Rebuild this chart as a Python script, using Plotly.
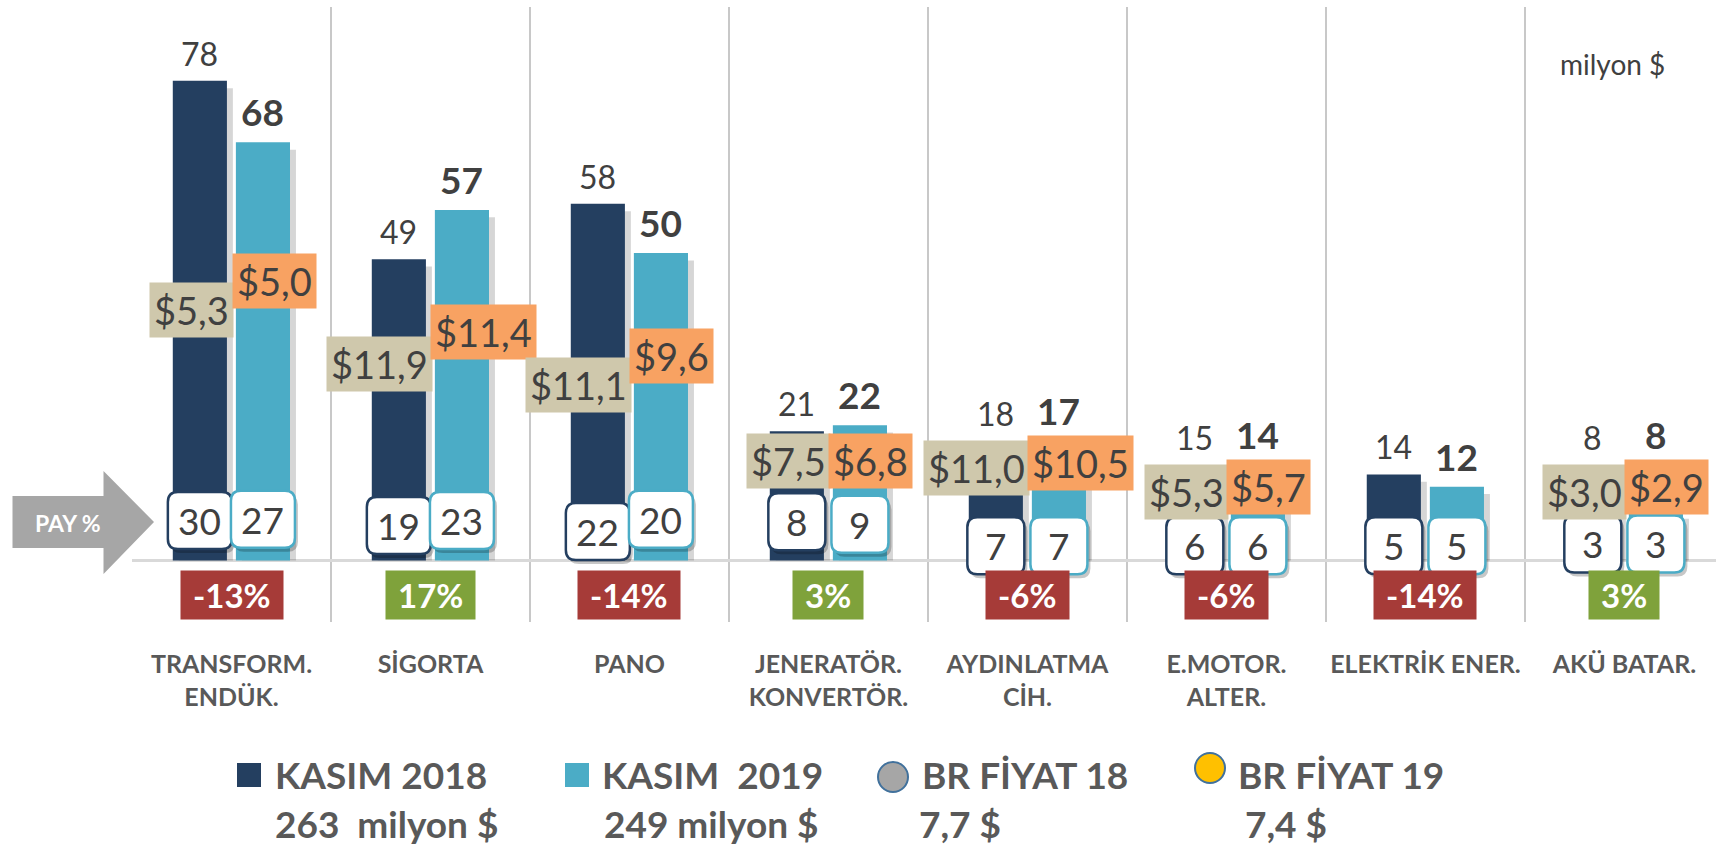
import plotly.graph_objects as go

# ---------------- data ----------------
categories = ["TRANSFORM.<br>ENDÜK.", "SİGORTA", "PANO", "JENERATÖR.<br>KONVERTÖR.",
              "AYDINLATMA<br>CİH.", "E.MOTOR.<br>ALTER.", "ELEKTRİK ENER.", "AKÜ BATAR."]
kasim_2018 = [78, 49, 58, 21, 18, 15, 14, 8]
kasim_2019 = [68, 57, 50, 22, 17, 14, 12, 8]
pay_2018 = [30, 19, 22, 8, 7, 6, 5, 3]
pay_2019 = [27, 23, 20, 9, 7, 6, 5, 3]
fiyat_2018 = [5.3, 11.9, 11.1, 7.5, 11.0, 5.3, None, 3.0]
fiyat_2019 = [5.0, 11.4, 9.6, 6.8, 10.5, 5.7, None, 2.9]
degisim = [-13, 17, -14, 3, -6, -6, -14, 3]
legend_names = ["KASIM 2018", "KASIM  2019", "BR FİYAT 18", "BR FİYAT 19"]
legend_totals = ["263  milyon $", "249 milyon $", "7,7 $", "7,4 $"]

# label placement (chart units), as hand placed in the original
fiyat_label_y18 = [40.7, 32.0, 28.6, 16.1, 15.1, 11.2, None, 11.2]
fiyat_label_y19 = [45.5, 37.1, 33.3, 16.1, 15.8, 11.9, None, 11.9]
pay_box_y18 = [6.5, 5.7, 4.7, 6.3, 2.4, 2.4, 2.4, 2.7]
pay_box_y19 = [6.7, 6.5, 6.7, 5.9, 2.4, 2.4, 2.4, 2.7]
value_label_floor = [0, 0, 0, 0, 19.5, 15.5, 0, 15.5]

FONT = "Lato"
DARK = "#243F60"
LIGHT = "#4BACC6"
TXT = "#404040"
GRY = "#595959"

W, H = 1716, 849
ML, MT, MB = 132, 7, 227
PW, PH = W - ML, H - MT - MB


def pxx(p):
    return (p - ML) / PW


def pxy(p):
    return (H - MB - p) / PH


def rounded(w, h, r, dx=0, dy=0):
    x0, x1, y0, y1 = -w / 2 + dx, w / 2 + dx, -h / 2 + dy, h / 2 + dy
    return (f"M {x0+r},{y0} L {x1-r},{y0} Q {x1},{y0} {x1},{y0+r} "
            f"L {x1},{y1-r} Q {x1},{y1} {x1-r},{y1} L {x0+r},{y1} "
            f"Q {x0},{y1} {x0},{y1-r} L {x0},{y0+r} Q {x0},{y0} {x0+r},{y0} Z")


def money(v):
    return "$" + f"{v:.1f}".replace(".", ",")


BAR_W = 0.272
OFF_18, OFF_19 = -0.295, 0.022
C_18, C_19 = OFF_18 + BAR_W / 2, OFF_19 + BAR_W / 2
x = list(range(len(categories)))

fig = go.Figure()
for vals, off in [(kasim_2018, OFF_18), (kasim_2019, OFF_19)]:
    fig.add_trace(go.Bar(x=x, y=[v - 1.2 for v in vals], width=BAR_W, offset=off + 0.03,
                         marker=dict(color="rgba(0,0,0,0.16)", line_width=0),
                         hoverinfo="skip", showlegend=False))
fig.add_trace(go.Bar(x=x, y=kasim_2018, width=BAR_W, offset=OFF_18, name=legend_names[0],
                     marker=dict(color=DARK, line_width=0)))
fig.add_trace(go.Bar(x=x, y=kasim_2019, width=BAR_W, offset=OFF_19, name=legend_names[1],
                     marker=dict(color=LIGHT, line_width=0)))

ann = []
shapes = []

# value labels above bars
for i in x:
    ann.append(dict(x=i + C_18, y=max(kasim_2018[i], value_label_floor[i]), text=str(kasim_2018[i]),
                    yanchor="bottom", yshift=6, showarrow=False,
                    font=dict(family=FONT, size=32, color=TXT)))
    ann.append(dict(x=i + C_19, y=max(kasim_2019[i], value_label_floor[i]), text=str(kasim_2019[i]),
                    yanchor="bottom", yshift=6, showarrow=False,
                    font=dict(family=FONT, size=37, color=TXT, weight="bold")))

# price labels
for i in x:
    if fiyat_2018[i] is not None:
        ann.append(dict(x=i + 0.015, y=fiyat_label_y18[i], text=money(fiyat_2018[i]), xanchor="right",
                        yanchor="middle", showarrow=False, bgcolor="#CFC8AC", borderpad=4,
                        font=dict(family=FONT, size=38, color=TXT)))
    if fiyat_2019[i] is not None:
        ann.append(dict(x=i, y=fiyat_label_y19[i], text=money(fiyat_2019[i]), xanchor="left",
                        yanchor="middle", showarrow=False, bgcolor="#F8A262", borderpad=4,
                        font=dict(family=FONT, size=38, color=TXT)))

# PAY % boxes
for i in x:
    for val, yv, c, col in [(pay_2018[i], pay_box_y18[i], C_18, DARK),
                            (pay_2019[i], pay_box_y19[i], C_19, LIGHT)]:
        w = 64 if val >= 10 else 57
        common = dict(type="path", xref="x", yref="y", xsizemode="pixel", ysizemode="pixel",
                      xanchor=i + c, yanchor=yv, layer="above")
        shapes.append(dict(common, path=rounded(w, 57, 10, 3, -4),
                           fillcolor="rgba(0,0,0,0.22)", line_width=0))
        shapes.append(dict(common, path=rounded(w, 57, 10),
                           fillcolor="white", line=dict(color=col, width=2.5)))
        ann.append(dict(x=i + c, y=yv, text=str(val), showarrow=False, yanchor="middle",
                        font=dict(family=FONT, size=37, color=TXT)))

# change boxes
for i in x:
    d = degisim[i]
    ann.append(dict(x=i, y=-5.6, text=f"\u00a0{d}%\u00a0", showarrow=False, yanchor="middle",
                    bgcolor="#A63B38" if d < 0 else "#7FA23B", borderpad=4,
                    font=dict(family=FONT, size=33, color="white", weight="bold")))

# PAY % arrow
pts = [(12.5, 496), (103.5, 496), (103.5, 471), (154, 522), (103.5, 574), (103.5, 548), (12.5, 548)]
path = "M " + " L ".join(f"{pxx(a):.5f},{pxy(b):.5f}" for a, b in pts) + " Z"
shapes.append(dict(type="path", xref="paper", yref="paper", path=path,
                   fillcolor="#A6A6A6", line_width=0, layer="above"))
ann.append(dict(x=pxx(68), y=pxy(523), xref="paper", yref="paper", text="PAY %", showarrow=False,
                xanchor="center", yanchor="middle",
                font=dict(family=FONT, size=23, color="white", weight="bold")))

ann.append(dict(x=pxx(1612), y=pxy(64), xref="paper", yref="paper", text="milyon $", showarrow=False,
                xanchor="center", yanchor="middle",
                font=dict(family=FONT, size=28, color=TXT)))

# legend (drawn by hand, bigger symbols than plotly's legend allows)
sym_left = [237, 565, 878, 1195]
sym_cy = [775, 775, 777, 768]
text_left = [273, 600, 920, 1236]
total_left = [273, 602, 917, 1243]
sym_fill = [DARK, LIGHT, "#A6A6A6", "#FFC000"]
for k in range(4):
    if k < 2:
        shapes.append(dict(type="rect", xref="paper", yref="paper",
                           x0=pxx(sym_left[k]), x1=pxx(sym_left[k] + 24),
                           y0=pxy(sym_cy[k] - 12), y1=pxy(sym_cy[k] + 12),
                           fillcolor=sym_fill[k], line_width=0))
    else:
        shapes.append(dict(type="circle", xref="paper", yref="paper",
                           x0=pxx(sym_left[k]), x1=pxx(sym_left[k] + 30),
                           y0=pxy(sym_cy[k] - 15), y1=pxy(sym_cy[k] + 15),
                           fillcolor=sym_fill[k], line=dict(color="#41719C", width=2)))
    ann.append(dict(x=pxx(text_left[k]), y=pxy(774), xref="paper", yref="paper",
                    xanchor="left", yanchor="middle",
                    text=legend_names[k], showarrow=False,
                    font=dict(family=FONT, size=37, color=GRY, weight="bold")))
    ann.append(dict(x=pxx(total_left[k]), y=pxy(823), xref="paper", yref="paper",
                    xanchor="left", yanchor="middle",
                    text=legend_totals[k], showarrow=False,
                    font=dict(family=FONT, size=37, color=GRY, weight="bold")))

fig.update_layout(
    width=W, height=H,
    margin=dict(l=ML, r=0, t=MT, b=MB),
    barmode="overlay",
    plot_bgcolor="white", paper_bgcolor="white",
    showlegend=False,
    annotations=ann, shapes=shapes,
)
fig.update_xaxes(
    range=[-0.5, 7.46], tickmode="array", tickvals=x, ticktext=categories,
    showgrid=False, zeroline=False, showline=False,
    ticks="outside", ticklen=20, tickcolor="rgba(0,0,0,0)",
    tickfont=dict(family=FONT, size=25, color=GRY, weight="bold"),
    minor=dict(tickmode="array", tickvals=[i - 0.5 for i in range(len(categories) + 1)],
               showgrid=True, gridcolor="#C8C8C8", gridwidth=2, ticks=""),
)
fig.update_yaxes(range=[-10, 90], showticklabels=False, showgrid=False,
                 zeroline=True, zerolinecolor="#D9D9D9", zerolinewidth=3)

fig.write_html("out.html", config={"displayModeBar": False},
               post_script="document.body.style.margin='0';")
